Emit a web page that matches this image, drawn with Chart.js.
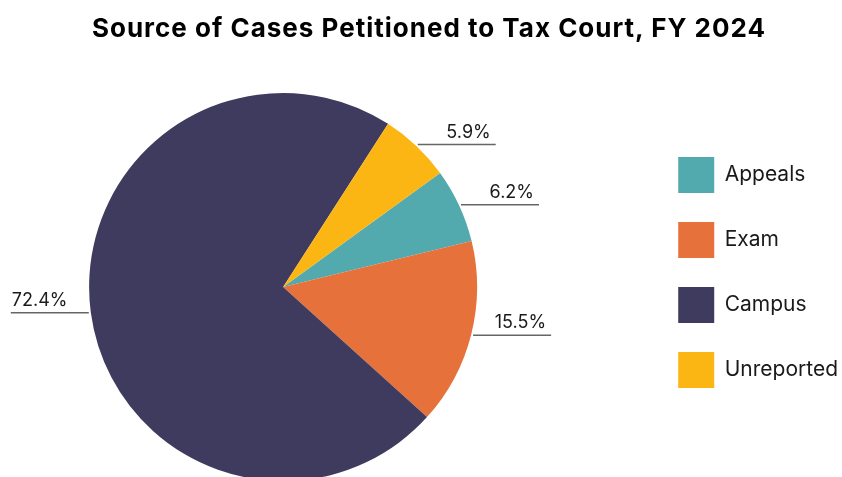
<!DOCTYPE html>
<html>
<head>
<meta charset="utf-8">
<script src="https://cdn.jsdelivr.net/npm/chart.js@4.4.1/dist/chart.umd.min.js"></script>
<style>
  html, body { margin: 0; padding: 0; background: #fff; overflow: hidden; }
  #wrap { position: relative; width: 842px; height: 477px; overflow: hidden; }
  #title {
    position: absolute; left: 8px; top: 15px; width: 842px;
    text-align: center; font: 700 26px Inter, sans-serif; line-height: 26px;
    letter-spacing: 1px; color: #000;
  }
  /* canvas overhangs the window on both sides so pie and legend land where the reference has them */
  #pie { position: absolute; left: -83px; top: 0; }
</style>
</head>
<body>
<div id="wrap">
  <canvas id="pie" width="933" height="477"></canvas>
  <div id="title">Source of Cases Petitioned to Tax Court, FY 2024</div>
</div>
<script>
// data
const categories = ['Appeals', 'Exam', 'Campus', 'Unreported'];
const shares = [6.2, 15.5, 72.4, 5.9];
const sliceColors = ['#53aaae', '#e7713a', '#3f3b5f', '#fcb614'];

Chart.defaults.font.family = 'Inter, sans-serif';

// percent labels sitting on short horizontal leader lines
const leaderLabels = {
  id: 'leaderLabels',
  afterDatasetsDraw(chart) {
    const ctx = chart.ctx;
    const meta = chart.getDatasetMeta(0);
    ctx.save();
    ctx.font = '18px Inter, sans-serif';
    ctx.fillStyle = '#1a1a1a';
    ctx.strokeStyle = '#666';
    ctx.lineWidth = 1.5;
    ctx.textBaseline = 'alphabetic';
    meta.data.forEach((arc, i) => {
      const { x, y, startAngle, endAngle, outerRadius } = arc.getProps(['x', 'y', 'startAngle', 'endAngle', 'outerRadius'], true);
      const mid = (startAngle + endAngle) / 2;
      const ax = x + Math.cos(mid) * (outerRadius + 2);
      const ay = y + Math.sin(mid) * (outerRadius + 2);
      const right = Math.cos(mid) >= 0;
      const len = 78;
      const ex = right ? ax + len : ax - len;
      ctx.beginPath();
      ctx.moveTo(ax, ay);
      ctx.lineTo(ex, ay);
      ctx.stroke();
      const txt = shares[i].toFixed(1) + '%';
      if (right) {
        ctx.textAlign = 'right';
        ctx.fillText(txt, ex - 5, ay - 7);
      } else {
        ctx.textAlign = 'left';
        ctx.fillText(txt, ex + 1, ay - 7);
      }
    });
    ctx.restore();
  }
};

new Chart(document.getElementById('pie'), {
  type: 'pie',
  data: {
    labels: categories,
    datasets: [{
      data: shares,
      backgroundColor: sliceColors,
      borderWidth: 0,
      radius: 194,
      clip: false
    }]
  },
  options: {
    responsive: false,
    animation: false,
    rotation: 54,
    layout: { padding: { left: 0, right: 2, top: 128, bottom: 31 } },
    plugins: {
      title: { display: false },
      tooltip: { enabled: false },
      legend: {
        position: 'right',
        align: 'start',
        labels: {
          boxWidth: 36,
          boxHeight: 36,
          padding: 29,
          color: '#1a1a1a',
          font: { size: 21 }
        }
      }
    }
  },
  plugins: [leaderLabels]
});
</script>
</body>
</html>
